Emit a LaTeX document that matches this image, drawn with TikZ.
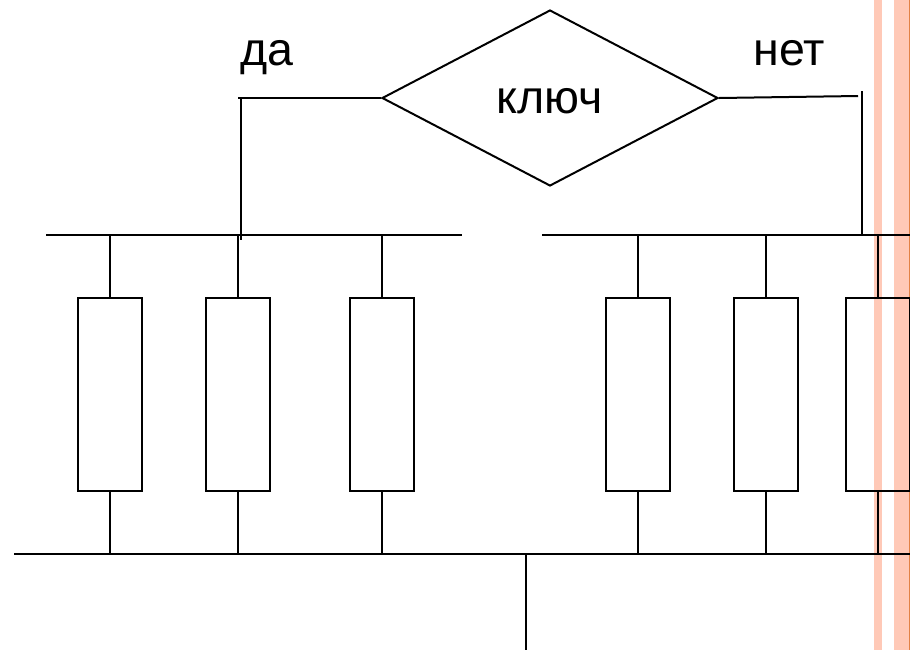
\documentclass[tikz,border=0pt]{standalone}
\usepackage{fontspec}
\setmainfont{Liberation Sans}
\usetikzlibrary{shapes.geometric}
\definecolor{bandcol}{RGB}{255,201,183}
\definecolor{bandedge}{RGB}{226,130,70}
\tikzset{
  wire/.style={line width=0.04cm, black},
  resbox/.style={draw, line width=0.04cm, minimum width=1.28cm, minimum height=3.86cm, inner sep=0pt},
  lbl/.style={font=\fontsize{26.5}{30}\selectfont, inner sep=0pt}
}
\begin{document}
\begin{tikzpicture}[x=0.02cm, y=-0.02cm]
\useasboundingbox (0,0) rectangle (910,650);
% side bands
\fill[bandcol] (874,0) rectangle (882,650);
\fill[bandcol] (894,0) rectangle (909,650);
\fill[bandedge] (909,0) rectangle (910,650);
% switch
\node[diamond, draw, line width=0.04cm, aspect=1.91, minimum width=6.72cm, minimum height=3.52cm, inner sep=0pt] (key) at (550,98) {};
\node[lbl, anchor=base] (keytext) at (550,113) {ключ};
\node[lbl, anchor=base west] (yes) at (240,65) {да};
\node[lbl, anchor=base west] (no) at (753,65) {нет};
% buses
\coordinate (busaL) at (46,235);
\coordinate (busaR) at (462,235);
\coordinate (busbL) at (542,235);
\coordinate (busbR) at (910,235);
\coordinate (busout) at (14,554);
\coordinate (busend) at (910,554);
\coordinate (tail) at (526,650);
\draw[wire] (busaL) -- (busaR);
\draw[wire] (busbL) -- (busbR);
\draw[wire] (busout) -- (busend);
\draw[wire] (tail |- busout) -- (tail);
% wires from the switch
\coordinate (yesT) at (238,98);
\coordinate (yesC) at (241,98);
\coordinate (yesB) at (241,240);
\coordinate (noE) at (858,96);
\coordinate (noT) at (862,91);
\coordinate (noB) at (862,235);
\draw[wire] (key.west) -- (yesT);
\draw[wire] (yesC) -- (yesB);
\draw[wire] (key.east) -- (noE);
\draw[wire] (noT) -- (noB);
% resistors
\foreach \n/\bx/\bus in {a/110/busaL, b/238/busaL, c/382/busaL, d/638/busbL, e/766/busbL, f/878/busbL} {
  \node[resbox] (r\n) at (\bx,394.5) {};
  \draw[wire] (r\n.north) -- (r\n.north |- \bus);
  \draw[wire] (r\n.south) -- (r\n.south |- busout);
}
\end{tikzpicture}
\end{document}
